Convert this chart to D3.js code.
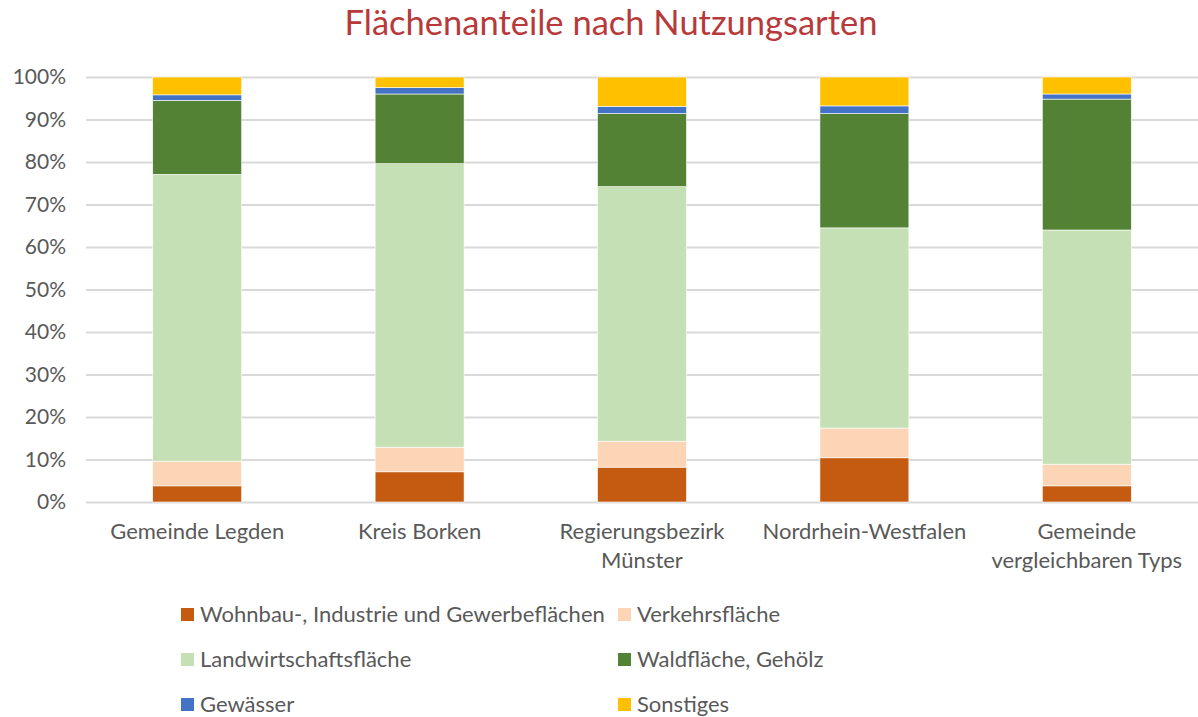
<!DOCTYPE html>
<html>
<head>
<meta charset="utf-8">
<script src="https://cdn.jsdelivr.net/npm/d3@7"></script>
<style>
  html, body { margin: 0; padding: 0; background: #fff; }
  svg { display: block; }
</style>
</head>
<body>
<svg id="chart" width="1198" height="717"></svg>
<script>
const categories = [
  ["Gemeinde Legden"],
  ["Kreis Borken"],
  ["Regierungsbezirk", "Münster"],
  ["Nordrhein-Westfalen"],
  ["Gemeinde", "vergleichbaren Typs"]
];
const seriesNames = [
  "Wohnbau-, Industrie und Gewerbeflächen",
  "Verkehrsfläche",
  "Landwirtschaftsfläche",
  "Waldfläche, Gehölz",
  "Gewässer",
  "Sonstiges"
];
const seriesColors = ["#C55A11", "#FBD5B5", "#C5E0B4", "#548235", "#4472C4", "#FFC000"];
// percentages per category, one array per series
const wohnbau      = [3.8, 7.1, 8.2, 10.4, 3.8];
const verkehr      = [5.8, 5.8, 6.1, 7.0, 5.1];
const landwirt     = [67.5, 66.7, 59.9, 47.1, 55.1];
const wald         = [17.4, 16.4, 17.2, 26.9, 30.8];
const gewaesser    = [1.3, 1.5, 1.7, 1.8, 1.2];
const sonstiges    = [4.2, 2.5, 6.9, 6.8, 4.0];
const yTicks = [0, 10, 20, 30, 40, 50, 60, 70, 80, 90, 100];

const seriesValues = [wohnbau, verkehr, landwirt, wald, gewaesser, sonstiges];
const keys = seriesNames;
const table = categories.map((c, i) => {
  const row = { cat: c.join(" ") };
  keys.forEach((k, s) => row[k] = seriesValues[s][i]);
  return row;
});
table.forEach(r => {
  const tot = d3.sum(keys, k => r[k]);
  keys.forEach(k => r[k] = r[k] / tot * 100);
});

const svg = d3.select("#chart");
const font = "Lato, 'Open Sans', sans-serif";
const margin = { left: 86, right: 0 };
const W = 1198;

const x = d3.scaleBand()
  .domain(table.map(d => d.cat))
  .range([margin.left, W - margin.right])
  .paddingInner(0.6).paddingOuter(0.3);
const y = d3.scaleLinear().domain([0, 100]).range([502, 77]);

// title
svg.append("text")
  .attr("x", 611).attr("y", 35)
  .attr("text-anchor", "middle")
  .attr("font-family", font).attr("font-size", 34.5)
  .attr("fill", "#B7393A")
  .text("Flächenanteile nach Nutzungsarten");

// gridlines + y labels
const yAxis = d3.axisLeft(y).tickValues(yTicks).tickFormat(d => d + "%")
  .tickSize(-(W - margin.left)).tickPadding(20);
const gy = svg.append("g").attr("transform", `translate(${margin.left},0)`).call(yAxis);
gy.select(".domain").remove();
gy.selectAll(".tick line").attr("stroke", "#D9D9D9").attr("stroke-width", 2);
gy.selectAll(".tick text").attr("font-family", font).attr("font-size", 21)
  .attr("fill", "#595959");

// stacked bars
const stack = d3.stack().keys(keys)(table);
const color = d3.scaleOrdinal().domain(keys).range(seriesColors);
svg.append("g").selectAll("g").data(stack).join("g")
  .attr("fill", d => color(d.key))
  .selectAll("rect").data(d => d).join("rect")
  .attr("x", d => x(d.data.cat))
  .attr("width", x.bandwidth())
  .attr("y", d => y(d[1]))
  .attr("height", d => y(d[0]) - y(d[1]))
  .attr("stroke", "#fff").attr("stroke-width", 0.6);

// x labels
const xl = svg.append("g");
categories.forEach((c, i) => {
  const cx = x(table[i].cat) + x.bandwidth() / 2;
  const t = xl.append("text")
    .attr("x", cx).attr("y", 539)
    .attr("text-anchor", "middle")
    .attr("font-family", font).attr("font-size", 22)
    .attr("fill", "#595959");
  c.forEach((line, j) => {
    t.append("tspan").attr("x", cx).attr("dy", j === 0 ? 0 : 29).text(line);
  });
});

// legend
const legPos = [[181, 614], [618, 614], [181, 659], [618, 659], [181, 704], [618, 704]];
const lg = svg.append("g");
keys.forEach((k, i) => {
  const [lx, ly] = legPos[i];
  lg.append("rect").attr("x", lx).attr("y", ly - 6).attr("width", 13).attr("height", 13)
    .attr("fill", color(k));
  lg.append("text").attr("x", lx + 19).attr("y", ly + 8)
    .attr("font-family", font).attr("font-size", 22).attr("fill", "#595959")
    .text(k);
});
</script>
</body>
</html>
